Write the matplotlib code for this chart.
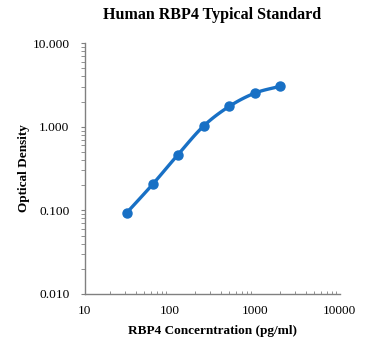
import matplotlib
matplotlib.use("Agg")
import matplotlib.pyplot as plt
import matplotlib.ticker as mticker
import numpy as np

plt.rcParams['font.family'] = ['Liberation Serif', 'DejaVu Serif']

# standard curve values
conc = [31.25, 62.5, 125, 250, 500, 1000, 2000]
od = [0.094, 0.204, 0.465, 1.02, 1.75, 2.52, 3.05]
x_ticks = [10, 100, 1000, 10000]
y_ticks = [0.01, 0.1, 1, 10]


def smooth(xs, ys, n=20):
    # catmull-rom through the points in log space (like excel's smoothed line)
    lx = np.log10(xs)
    ly = np.log10(ys)
    px = np.concatenate([[2 * lx[0] - lx[1]], lx, [2 * lx[-1] - lx[-2]]])
    py = np.concatenate([[2 * ly[0] - ly[1]], ly, [2 * ly[-1] - ly[-2]]])
    outx, outy = [], []
    for i in range(1, len(px) - 2):
        t = np.linspace(0, 1, n)
        for p, out in ((px, outx), (py, outy)):
            p0, p1, p2, p3 = p[i - 1], p[i], p[i + 1], p[i + 2]
            out.extend(0.5 * (2 * p1 + (-p0 + p2) * t
                              + (2 * p0 - 5 * p1 + 4 * p2 - p3) * t ** 2
                              + (-p0 + 3 * p1 - 3 * p2 + p3) * t ** 3))
    return 10 ** np.array(outx), 10 ** np.array(outy)


fig = plt.figure(figsize=(3.69, 3.5), dpi=100)
ax = fig.add_axes([0.230, 0.160, 0.691, 0.717])

sx, sy = smooth(conc, od)
ax.plot(sx, sy, color='#1870c5', lw=2.4, zorder=2)
ax.plot(conc, od, 'o', color='#1870c5', ms=6.5, zorder=3)

ax.set_xscale('log')
ax.set_yscale('log')
ax.set_xlim(10, 10000)
ax.set_ylim(0.01, 10)
ax.set_xticks(x_ticks)
ax.set_xticklabels([str(v) for v in x_ticks])
ax.set_yticks(y_ticks)
ax.set_yticklabels(['%.3f' % v for v in y_ticks])
ax.xaxis.set_minor_locator(mticker.LogLocator(base=10, subs=np.arange(2, 10)))
ax.yaxis.set_minor_locator(mticker.LogLocator(base=10, subs=np.arange(2, 10)))
ax.xaxis.set_minor_formatter(mticker.NullFormatter())
ax.yaxis.set_minor_formatter(mticker.NullFormatter())

for s in ('top', 'right'):
    ax.spines[s].set_visible(False)
for s in ('left', 'bottom'):
    ax.spines[s].set_color('#808080')
    ax.spines[s].set_linewidth(1.0)

ax.tick_params(axis='x', which='major', length=0, pad=8, labelsize=9.5)
ax.tick_params(axis='x', which='minor', direction='in', length=2.5, color='#808080')
ax.tick_params(axis='y', which='major', direction='out', length=3, pad=8,
               color='#808080', labelsize=9.7)
ax.tick_params(axis='y', which='minor', direction='out', length=3, color='#808080')

ax.set_title('Human RBP4 Typical Standard', fontsize=11.5, fontweight='bold', pad=17)
ax.set_xlabel('RBP4 Concerntration (pg/ml)', fontsize=9.5, fontweight='bold', labelpad=6)
ax.set_ylabel('Optical Density', fontsize=9.5, fontweight='bold', labelpad=1.5)

fig.savefig('out.png', dpi=100)
